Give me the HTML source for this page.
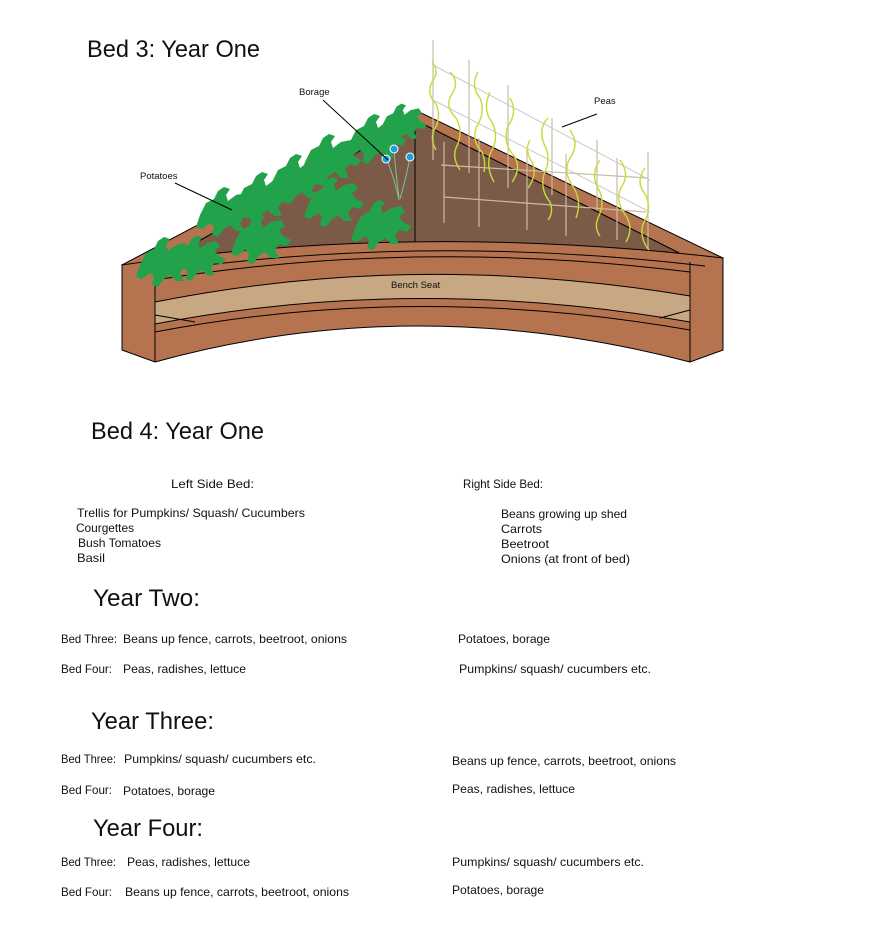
<!DOCTYPE html>
<html><head><meta charset="utf-8"><style>
html,body{margin:0;padding:0;background:#fff;width:883px;height:928px;overflow:hidden}
svg{display:block}
text{font-family:"Liberation Sans",sans-serif;fill:#111}
.s{font-size:12px}
.h{font-size:24px}
.l{font-size:9.5px}
</style></head><body>
<svg width="883" height="928" viewBox="0 0 883 928" xmlns="http://www.w3.org/2000/svg">
<defs>
<path id="leaf" d="M0,10 L6,-2 L14,-6 L18,-14 L24,-18 L30,-16 L26,-10 L28,-4 L36,-10 L46,-12 L50,-6 L44,-2 L48,4 L56,8 L52,14 L44,12 L40,18 L44,26 L36,26 L30,20 L24,24 L18,32 L12,30 L14,22 L10,18 L2,24 L-4,22 Z"/>
</defs>
<polygon points="122,265 415,110 723,258 705,266 415,120 140,274" fill="#b5734f" stroke="#000" stroke-width="1"/>
<path d="M140,274 L415,120 L705,266 Q415,232 140,274 Z" fill="#7b5b47" stroke="#000" stroke-width="1"/>
<line x1="415" y1="110" x2="415" y2="250" stroke="#000" stroke-width="1"/>
<path d="M122,265 Q415,222 723,258 L723,350 L690,362 Q415,290 155,362 L122,350 Z" fill="#b5734f" stroke="#000" stroke-width="1"/>
<path d="M140,274 Q415,232 705,266" fill="none" stroke="#000"/>
<path d="M155,280 Q415,238 690,272" fill="none" stroke="#000"/>
<path d="M155,302 Q415,250 690,296 L690,322 Q415,274 155,324 Z" fill="#c8a882" stroke="#000" stroke-width="1"/>
<path d="M155,332 Q415,282 690,330" fill="none" stroke="#000"/>
<line x1="155" y1="270" x2="155" y2="362" stroke="#000"/>
<line x1="690" y1="262" x2="690" y2="362" stroke="#000"/>
<line x1="155" y1="315" x2="195" y2="322" stroke="#000"/>
<line x1="690" y1="310" x2="660" y2="318" stroke="#000"/>
<g stroke="#cbbba2" stroke-width="1.2" fill="none">
<line x1="433" y1="40" x2="433" y2="160"/><line x1="469" y1="60" x2="469" y2="173"/>
<line x1="508" y1="85" x2="508" y2="188"/><line x1="552" y1="118" x2="552" y2="195"/>
<line x1="597" y1="140" x2="597" y2="210"/><line x1="648" y1="152" x2="648" y2="248"/>
<line x1="444" y1="142" x2="444" y2="223"/><line x1="479" y1="138" x2="479" y2="227"/>
<line x1="527" y1="148" x2="527" y2="230"/><line x1="566" y1="154" x2="566" y2="236"/>
<line x1="617" y1="158" x2="617" y2="240"/>
<line x1="441" y1="165" x2="648" y2="178"/><line x1="444" y1="197" x2="646" y2="212"/>
</g>
<g stroke="#c9c9c9" stroke-width="1" fill="none">
<line x1="433" y1="65" x2="650" y2="180"/><line x1="433" y1="100" x2="650" y2="212"/>
</g>
<g stroke="#c4dc3a" stroke-width="1.4" fill="none">
<path d="M432,62 q8,10 0,20 q-6,12 4,22 q6,14 -2,26 q-4,10 2,20"/>
<path d="M450,72 q10,10 2,22 q-8,12 4,24 q8,14 0,30 q-4,10 4,22"/>
<path d="M478,72 q-8,14 2,26 q6,14 -4,30 q-4,14 6,24 q4,10 2,20"/>
<path d="M490,92 q-8,18 2,30 q8,16 -2,32 q-4,14 4,28"/>
<path d="M510,98 q8,14 -2,28 q-6,16 6,30 q8,12 -2,26"/>
<path d="M548,118 q-10,10 -4,26 q8,14 0,30 q-4,16 6,28 q4,10 -2,18"/>
<path d="M570,130 q10,14 0,28 q-8,14 4,30 q8,14 2,30"/>
<path d="M600,160 q-10,14 -2,28 q8,14 0,30 q-4,10 2,18"/>
<path d="M620,160 q10,14 2,26 q-8,14 4,30 q8,12 0,26"/>
<path d="M645,168 q-10,14 0,26 q8,14 -2,30 q-4,14 6,26"/>
<path d="M530,140 q-6,10 2,22 q6,12 -4,26"/>
</g>
<g fill="#22a24a">
<use href="#leaf" transform="translate(140,255) scale(1.0)"/>
<use href="#leaf" transform="translate(175,252) scale(0.9)"/>
<use href="#leaf" transform="translate(200,205) scale(1.0)"/>
<use href="#leaf" transform="translate(238,190) scale(1.0)"/>
<use href="#leaf" transform="translate(272,172) scale(1.0)"/>
<use href="#leaf" transform="translate(305,152) scale(1.0)"/>
<use href="#leaf" transform="translate(350,132) scale(1.0)"/>
<use href="#leaf" transform="translate(382,118) scale(0.8)"/>
<use href="#leaf" transform="translate(235,232) scale(1.0)"/>
<use href="#leaf" transform="translate(308,195) scale(1.0)"/>
<use href="#leaf" transform="translate(355,218) scale(1.0)"/>
</g>
<g stroke="#7bbf9a" fill="none"><path d="M387,160 q8,20 12,40"/><path d="M394,150 q2,25 5,48"/><path d="M410,157 q-4,22 -10,42"/></g>
<g fill="#1aa0e0" stroke="#fff" stroke-width="1"><circle cx="386" cy="159" r="4"/><circle cx="394" cy="149" r="4"/><circle cx="410" cy="157" r="4"/></g>
<g stroke="#000" stroke-width="1"><line x1="323" y1="100" x2="388" y2="160"/><line x1="175" y1="183" x2="232" y2="210"/><line x1="562" y1="127" x2="597" y2="114"/></g>
<text class="l" x="299" y="95">Borage</text>
<text class="l" x="140" y="179">Potatoes</text>
<text class="l" x="594" y="104">Peas</text>
<text class="l" x="391" y="288">Bench Seat</text>

<text class="h" x="87" y="57" textLength="173" lengthAdjust="spacingAndGlyphs">Bed 3: Year One</text>
<text class="h" x="91" y="439" textLength="173" lengthAdjust="spacingAndGlyphs">Bed 4: Year One</text>
<text class="h" x="93" y="606" textLength="107" lengthAdjust="spacingAndGlyphs">Year Two:</text>
<text class="h" x="91" y="729" textLength="123" lengthAdjust="spacingAndGlyphs">Year Three:</text>
<text class="h" x="93" y="836" textLength="110" lengthAdjust="spacingAndGlyphs">Year Four:</text>

<text class="s" x="171" y="488" textLength="83" lengthAdjust="spacingAndGlyphs">Left Side Bed:</text>
<text class="s" x="463" y="488" textLength="80" lengthAdjust="spacingAndGlyphs">Right Side Bed:</text>
<text class="s" x="77" y="517" textLength="228" lengthAdjust="spacingAndGlyphs">Trellis for Pumpkins/ Squash/ Cucumbers</text>
<text class="s" x="76" y="532" textLength="58" lengthAdjust="spacingAndGlyphs">Courgettes</text>
<text class="s" x="78" y="547" textLength="83" lengthAdjust="spacingAndGlyphs">Bush Tomatoes</text>
<text class="s" x="77" y="562" textLength="28" lengthAdjust="spacingAndGlyphs">Basil</text>
<text class="s" x="501" y="518" textLength="126" lengthAdjust="spacingAndGlyphs">Beans growing up shed</text>
<text class="s" x="501" y="533" textLength="41" lengthAdjust="spacingAndGlyphs">Carrots</text>
<text class="s" x="501" y="548" textLength="48" lengthAdjust="spacingAndGlyphs">Beetroot</text>
<text class="s" x="501" y="563" textLength="129" lengthAdjust="spacingAndGlyphs">Onions (at front of bed)</text>

<text class="s" x="61" y="643" textLength="56" lengthAdjust="spacingAndGlyphs">Bed Three:</text>
<text class="s" x="123" y="643" textLength="224" lengthAdjust="spacingAndGlyphs">Beans up fence, carrots, beetroot, onions</text>
<text class="s" x="458" y="643" textLength="92" lengthAdjust="spacingAndGlyphs">Potatoes, borage</text>
<text class="s" x="61" y="673" textLength="51" lengthAdjust="spacingAndGlyphs">Bed Four:</text>
<text class="s" x="123" y="673" textLength="123" lengthAdjust="spacingAndGlyphs">Peas, radishes, lettuce</text>
<text class="s" x="459" y="673" textLength="192" lengthAdjust="spacingAndGlyphs">Pumpkins/ squash/ cucumbers etc.</text>

<text class="s" x="61" y="763" textLength="55" lengthAdjust="spacingAndGlyphs">Bed Three:</text>
<text class="s" x="124" y="763" textLength="192" lengthAdjust="spacingAndGlyphs">Pumpkins/ squash/ cucumbers etc.</text>
<text class="s" x="452" y="765" textLength="224" lengthAdjust="spacingAndGlyphs">Beans up fence, carrots, beetroot, onions</text>
<text class="s" x="61" y="794" textLength="51" lengthAdjust="spacingAndGlyphs">Bed Four:</text>
<text class="s" x="123" y="795" textLength="92" lengthAdjust="spacingAndGlyphs">Potatoes, borage</text>
<text class="s" x="452" y="793" textLength="123" lengthAdjust="spacingAndGlyphs">Peas, radishes, lettuce</text>

<text class="s" x="61" y="866" textLength="55" lengthAdjust="spacingAndGlyphs">Bed Three:</text>
<text class="s" x="127" y="866" textLength="123" lengthAdjust="spacingAndGlyphs">Peas, radishes, lettuce</text>
<text class="s" x="452" y="866" textLength="192" lengthAdjust="spacingAndGlyphs">Pumpkins/ squash/ cucumbers etc.</text>
<text class="s" x="61" y="896" textLength="51" lengthAdjust="spacingAndGlyphs">Bed Four:</text>
<text class="s" x="125" y="896" textLength="224" lengthAdjust="spacingAndGlyphs">Beans up fence, carrots, beetroot, onions</text>
<text class="s" x="452" y="894" textLength="92" lengthAdjust="spacingAndGlyphs">Potatoes, borage</text>
</svg>
</body></html>
